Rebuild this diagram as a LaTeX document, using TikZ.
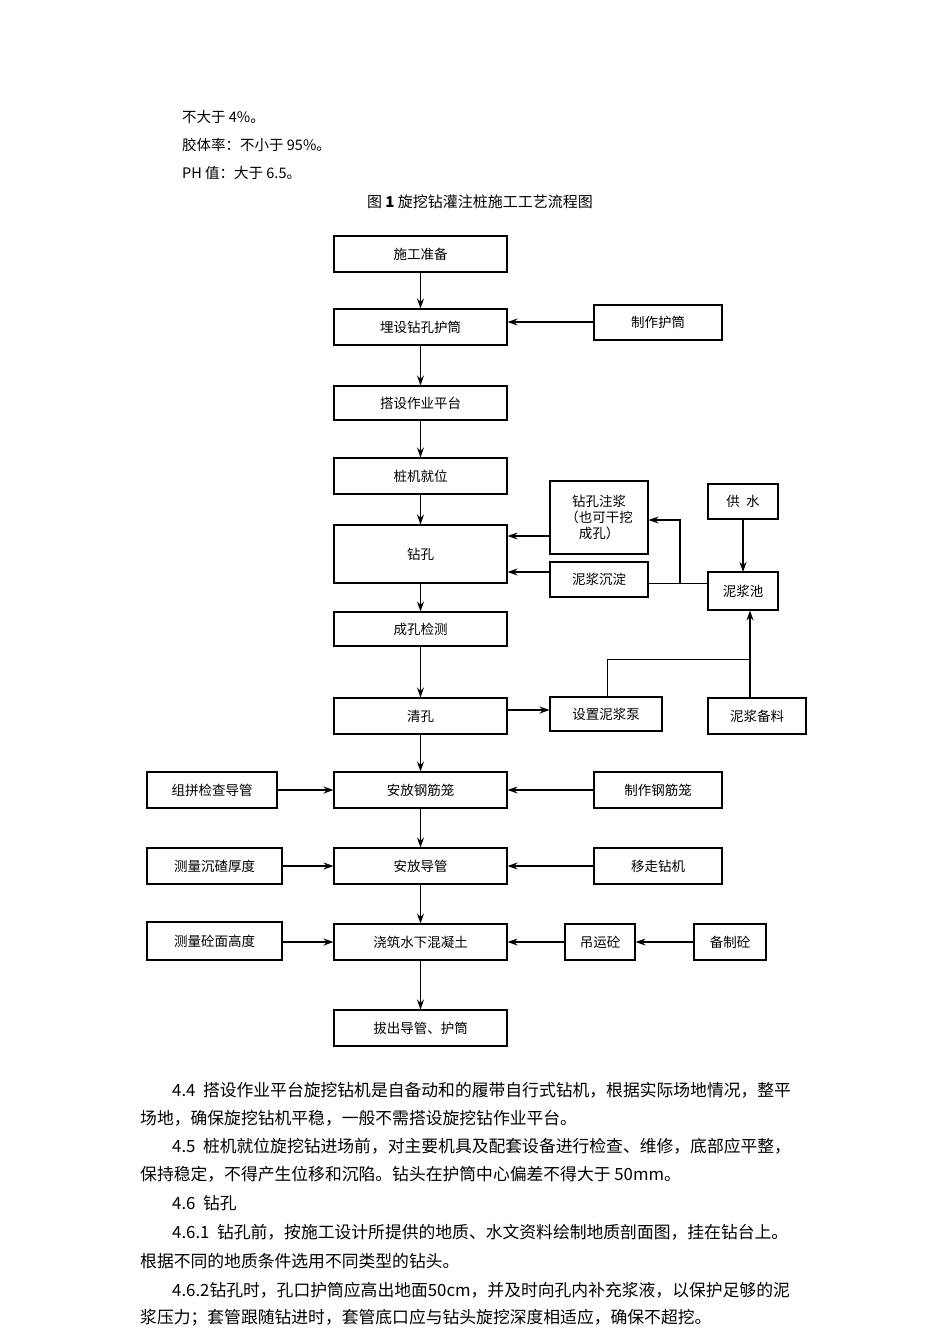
\documentclass[tikz,border=0pt]{standalone}
\usepackage{fontspec}
\setmainfont{Liberation Serif}
\newfontfamily\cjk{Noto Sans CJK SC}
\usetikzlibrary{arrows.meta}
\begin{document}
\begin{tikzpicture}[x=1pt,y=-1pt,
  bx/.style={draw,line width=1.1pt,inner sep=0pt,font=\cjk\fontsize{13.5}{16}\selectfont,align=center},
  ar/.style={-{Stealth[length=10pt,width=7pt]},line width=1.1pt},
  ln/.style={line width=1pt},
  tx/.style={anchor=west,inner sep=0pt,font=\cjk\fontsize{16.8}{19}\selectfont}]
\useasboundingbox (0,0) rectangle (950,1344);
\newcommand{\bxx}[6]{\node[bx,minimum width=#4-#2,minimum height=#5-#3] (#1) at ({(#2+#4)/2},{(#3+#5)/2}) {#6};}
\node[tx,font=\cjk\fontsize{14.5}{17}\selectfont] (t1) at (182,117) {不大于 4\%。};
\node[tx,font=\cjk\fontsize{14.5}{17}\selectfont] (t2) at (182,145) {胶体率：不小于 95\%。};
\node[tx,font=\cjk\fontsize{14.5}{17}\selectfont] (t3) at (182,173) {PH 值：大于 6.5。};
\node[inner sep=0pt,font=\cjk\fontsize{15}{17}\selectfont] (title) at (480,202) {图 \textbf{1} 旋挖钻灌注桩施工工艺流程图};
\bxx{a}{334}{236}{507}{272}{施工准备}
\bxx{b}{334}{309}{507}{345}{埋设钻孔护筒}
\bxx{b2}{594}{305}{722}{340}{制作护筒}
\bxx{c}{334}{386}{507}{420}{搭设作业平台}
\bxx{d}{334}{458}{507}{494}{桩机就位}
\bxx{e}{334}{525}{507}{583}{钻孔}
\bxx{e1}{550}{481}{648}{554}{钻孔注浆\\（也可干挖\\成孔）}
\bxx{e2}{550}{562}{648}{597}{泥浆沉淀}
\bxx{w}{708}{484}{778}{519}{供\ \ 水}
\bxx{p}{708}{572}{778}{610}{泥浆池}
\bxx{f}{334}{612}{507}{646}{成孔检测}
\bxx{g}{334}{698}{507}{734}{清孔}
\bxx{g1}{550}{697}{662}{731}{设置泥浆泵}
\bxx{g2}{708}{698}{806}{734}{泥浆备料}
\bxx{h0}{147}{772}{277}{808}{组拼检查导管}
\bxx{h}{334}{772}{507}{808}{安放钢筋笼}
\bxx{h1}{594}{772}{722}{808}{制作钢筋笼}
\bxx{i0}{147}{848}{282}{884}{测量沉碴厚度}
\bxx{i}{334}{848}{507}{884}{安放导管}
\bxx{i1}{594}{848}{722}{884}{移走钻机}
\bxx{j0}{147}{922}{282}{960}{测量砼面高度}
\bxx{j}{334}{924}{507}{960}{浇筑水下混凝土}
\bxx{j1}{565}{924}{635}{960}{吊运砼}
\bxx{j2}{694}{924}{766}{960}{备制砼}
\bxx{k}{334}{1010}{507}{1046}{拔出导管、护筒}
\draw[ar] (a) -- (b);
\draw[ar] (b) -- (c);
\draw[ar] (c) -- (d);
\draw[ar] (d) -- (e);
\draw[ar] (e) -- (f);
\draw[ar] (f) -- (g);
\draw[ar] (g) -- (h);
\draw[ar] (h) -- (i);
\draw[ar] (i) -- (j);
\draw[ar] (j) -- (k);
\draw[ar] (b2.west|-0,322) -- (b.east|-0,322);
\draw[ar] (e1.west|-0,536) -- (e.east|-0,536);
\draw[ar] (e2.west|-0,572) -- (e.east|-0,572);
\coordinate (m) at (680,583);
\draw[ln] (p.west|-m) -- (e2.east|-m);
\draw[ar] (m) -- (680,520) -- (e1.east|-0,520);
\draw[ar] (w.south|-0,519) -- (p.north|-0,572);
\coordinate (q) at (607,659);
\coordinate (r) at (750,659);
\draw[ar] (g2.north-|r) -- (p.south-|r);
\draw[ln] (g1.north-|q) -- (q) -- (r);
\draw[ar] (g.east|-0,710) -- (g1.west|-0,710);
\draw[ar] (h0) -- (h);
\draw[ar] (h1) -- (h);
\draw[ar] (i0) -- (i);
\draw[ar] (i1) -- (i);
\draw[ar] (j0.east|-j) -- (j);
\draw[ar] (j1) -- (j);
\draw[ar] (j2) -- (j1);
\node[tx] (p1) at (172,1090) {4.4\ \ 搭设作业平台旋挖钻机是自备动和的履带自行式钻机，根据实际场地情况，整平};
\node[tx] (p2) at (140,1118) {场地，确保旋挖钻机平稳，一般不需搭设旋挖钻作业平台。};
\node[tx] (p3) at (172,1146) {4.5\ \ 桩机就位旋挖钻进场前，对主要机具及配套设备进行检查、维修，底部应平整，};
\node[tx] (p4) at (140,1174) {保持稳定，不得产生位移和沉陷。钻头在护筒中心偏差不得大于 50mm。};
\node[tx] (p5) at (172,1203) {4.6\ \ 钻孔};
\node[tx] (p6) at (172,1232) {4.6.1\ \ 钻孔前，按施工设计所提供的地质、水文资料绘制地质剖面图，挂在钻台上。};
\node[tx] (p7) at (140,1261) {根据不同的地质条件选用不同类型的钻头。};
\node[tx] (p8) at (172,1290) {4.6.2钻孔时，孔口护筒应高出地面50cm，并及时向孔内补充浆液，以保护足够的泥};
\node[tx] (p9) at (140,1318) {浆压力；套管跟随钻进时，套管底口应与钻头旋挖深度相适应，确保不超挖。};
\end{tikzpicture}
\end{document}
